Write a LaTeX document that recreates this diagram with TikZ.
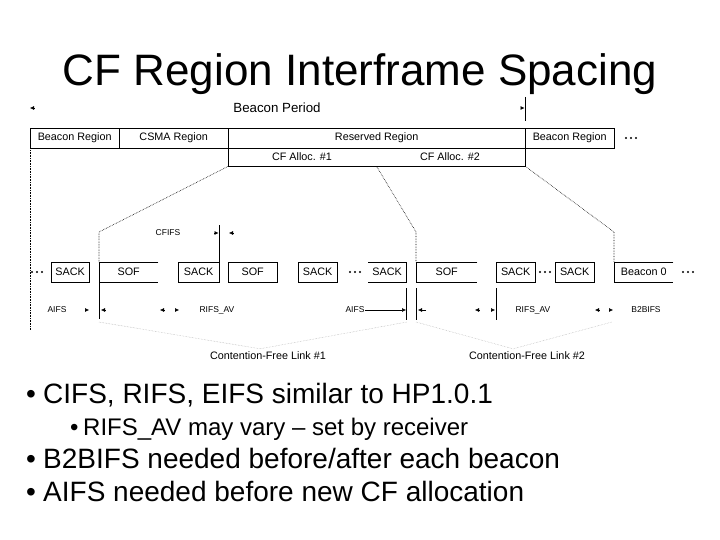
\documentclass[tikz,border=0pt]{standalone}
\usepackage{fontspec}
\setmainfont{Liberation Sans}
\usetikzlibrary{arrows.meta,calc,positioning}
\tikzset{
  framebox/.style={draw, anchor=north west, inner sep=0pt, minimum height=20pt, font=\fontsize{10.8}{12}\selectfont},
  openbox/.style={anchor=north west, inner sep=0pt, minimum height=20pt, font=\fontsize{10.8}{12}\selectfont},
  gaplabel/.style={font=\fontsize{8.5}{10}\selectfont, inner sep=0pt},
  linklabel/.style={font=\fontsize{10.8}{12}\selectfont, inner sep=0pt},
  gaptip/.style={-{Latex[length=4pt,width=4pt]}, line width=0.5pt},
  guide/.style={densely dotted, line width=0.6pt},
  faintguide/.style={densely dotted, black!30, line width=0.5pt},
  tick/.style={line width=0.7pt},
  bulletline/.style={anchor=base west, inner sep=0pt}
}
\newcommand{\threedots}[2]{\foreach \dx in {0,5,10}{\fill (#1+\dx,#2) circle (1.2pt);}}

\begin{document}
\begin{tikzpicture}[x=1pt, y=-1pt]
  \useasboundingbox (0,0) rectangle (720,540);
  % title
  \node[font=\fontsize{44}{50}\selectfont, anchor=base, inner sep=0pt] (title) at (360,86) {CF Region Interframe Spacing};

  % beacon period
  \node[font=\fontsize{13.3}{15}\selectfont, inner sep=0pt] (period) at (277,108) {Beacon Period};
  \coordinate (periodL) at (30,108);
  \coordinate (periodR) at (524.5,108);
  \draw[gaptip] ($(periodL)+(4,0)$) -- (periodL);
  \draw[gaptip] ($(periodR)+(-4,0)$) -- (periodR);
  \draw[tick] (525,97) -- (525,121);

  % regions
  \node[framebox, minimum width=89pt] (beaconA) at (30,128) {Beacon Region};
  \node[framebox, minimum width=109pt] (csma) at (119,128) {CSMA Region};
  \node[framebox, minimum width=297pt] (reserved) at (228,128) {Reserved Region};
  \node[framebox, minimum width=89pt] (beaconB) at (525,128) {Beacon Region};
  \threedots{626}{138}
  \node[framebox, minimum width=297pt, minimum height=18pt] (cfalloc) at (228,148) {};
  \node[font=\fontsize{10.8}{12}\selectfont, inner sep=0pt] (alloc1) at (302,157) {CF Alloc. \#1};
  \node[font=\fontsize{10.8}{12}\selectfont, inner sep=0pt] (alloc2) at (450,157) {CF Alloc. \#2};
  \coordinate (split) at (377,167);

  % frames
  \node[framebox, minimum width=38pt] (sack1) at (51,262) {SACK};
  \node[openbox, minimum width=59pt] (sof1) at (99,262) {SOF};
  \node[framebox, minimum width=41pt] (sack2) at (178,262) {SACK};
  \node[framebox, minimum width=49pt] (sof2) at (228,262) {SOF};
  \node[framebox, minimum width=39pt] (sack3) at (298,262) {SACK};
  \node[openbox, minimum width=38pt] (sack4) at (368,262) {SACK};
  \node[openbox, minimum width=61pt] (sof3) at (416,262) {SOF};
  \node[framebox, minimum width=39pt] (sack5) at (496,262) {SACK};
  \node[framebox, minimum width=39pt] (sack6) at (555,262) {SACK};
  \node[openbox, minimum width=59pt] (beacon0) at (614,262) {Beacon 0};
  \draw (sof1.north east) -- (sof1.north west) -- (sof1.south west) -- (sof1.south east);
  \draw (sack4.north west) -- (sack4.north east) -- (sack4.south east) -- (sack4.south west);
  \draw (sof3.north east) -- (sof3.north west) -- (sof3.south west) -- (sof3.south east);
  \draw (beacon0.north east) -- (beacon0.north west) -- (beacon0.south west) -- (beacon0.south east);
  \threedots{32}{272}
  \threedots{350}{272}
  \threedots{540}{272}
  \threedots{683}{272}

  % guides from the allocations
  \draw[guide] (beaconA.south west) -- (30,330);
  \draw[guide] (cfalloc.south west) -- (99,232) -- (sof1.north west);
  \draw[guide] (split) -- (416,232) -- (sof3.north west);
  \draw[guide] (cfalloc.south east) -- (614,232) -- (beacon0.north west);

  % boundaries
  \draw[tick] (sack2.north east) -- ++(0,-37);
  \draw[tick] (sof1.south west) -- ++(0,37);
  \draw[tick] ([yshift=-6pt]sack4.south east) -- ++(0,32);
  \draw[tick] ([yshift=-6pt]sof3.south west) -- ++(0,32);
  \draw[tick] ([yshift=-6pt]sack5.south west) -- ++(0,32);

  % spacings
  \node[gaplabel] (cifs) at (168,233) {CFIFS};
  \draw[gaptip] (214,233) -- (218.5,233);
  \draw[gaptip] (233,233) -- (229,233);
  \node[gaplabel] (aifsA) at (57,310) {AIFS};
  \draw[gaptip] (85,310) -- (89,310);
  \draw[gaptip] (105,310) -- (101,310);
  \node[gaplabel] (rifsA) at (217,310) {RIFS\_AV};
  \draw[gaptip] (164,310) -- (160,310);
  \draw[gaptip] (175,310) -- (179,310);
  \node[gaplabel] (aifsB) at (355,310) {AIFS};
  \draw[gaptip] (aifsB.east) -- (406,310);
  \draw[gaptip] (426,310) -- (418,310);
  \node[gaplabel] (rifsB) at (533,310) {RIFS\_AV};
  \draw[gaptip] (479,310) -- (475,310);
  \draw[gaptip] (491,310) -- (495,310);
  \node[gaplabel] (b2bifs) at (646,310) {B2BIFS};
  \draw[gaptip] (599,310) -- (595,310);
  \draw[gaptip] (609,310) -- (613,310);

  % links
  \node[linklabel] (linkA) at (268,356) {Contention-Free Link \#1};
  \node[linklabel] (linkB) at (527,356) {Contention-Free Link \#2};
  \draw[faintguide] (99,322) -- ($(linkA.north)+(-8,-3)$) -- (407,322);
  \draw[faintguide] (416,322) -- ($(linkB.north)+(-14,-3)$) -- (612,322);

  % bullets
  \node[bulletline, font=\fontsize{28}{32}\selectfont] (dotA) at (26,403) {\textbullet};
  \node[bulletline, font=\fontsize{28}{32}\selectfont] (itemA) at (43,403) {CIFS, RIFS, EIFS similar to HP1.0.1};
  \node[bulletline, font=\fontsize{24}{28}\selectfont] (dotB) at (70,435) {\textbullet};
  \node[bulletline, font=\fontsize{24}{28}\selectfont] (itemB) at (83,435) {RIFS\_AV may vary – set by receiver};
  \node[bulletline, font=\fontsize{28}{32}\selectfont] (dotC) at (26,468) {\textbullet};
  \node[bulletline, font=\fontsize{28}{32}\selectfont] (itemC) at (43,468) {B2BIFS needed before/after each beacon};
  \node[bulletline, font=\fontsize{28}{32}\selectfont] (dotD) at (26,501) {\textbullet};
  \node[bulletline, font=\fontsize{28}{32}\selectfont] (itemD) at (43,501) {AIFS needed before new CF allocation};
\end{tikzpicture}
\end{document}
